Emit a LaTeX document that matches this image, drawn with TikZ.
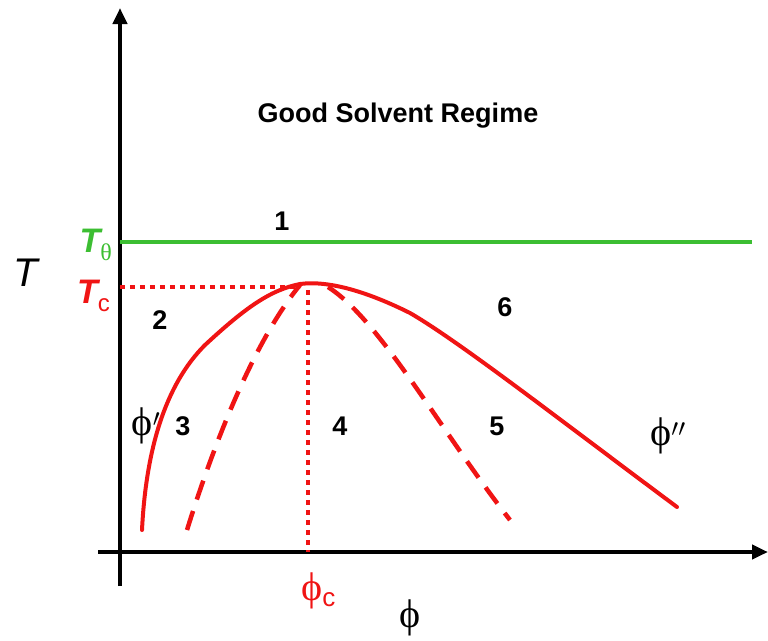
\documentclass[tikz,border=0pt]{standalone}
\usepackage{fontspec}
\setmainfont{Liberation Sans}
\newfontfamily\serifphi{Liberation Serif}
\usetikzlibrary{arrows.meta}
\definecolor{myred}{RGB}{240,20,20}
\definecolor{mygreen}{RGB}{60,190,50}
\tikzset{
  axis/.style={line width=4.5pt,-{Triangle[length=16pt,width=14pt]}},
  redcurve/.style={myred,line width=4pt},
  reddash/.style={myred,line width=4.5pt,dash pattern=on 20pt off 12pt},
  reddot/.style={myred,line width=4pt,dash pattern=on 5pt off 5pt},
  num/.style={font=\fontsize{27}{30}\selectfont\bfseries},
  phil/.style={font=\fontsize{40}{42}\selectfont\serifphi},
}
\begin{document}
\begin{tikzpicture}[x=1pt,y=-1pt]
\useasboundingbox (0,0) rectangle (768,640);
% axes
\coordinate (ybot) at (120,586);
\coordinate (ytop) at (120,8);
\coordinate (xl) at (98,552);
\coordinate (xr) at (768,552);
\draw[axis] (ybot) -- (ytop);
\draw[axis] (xl) -- (xr);
% theta line
\coordinate (g1) at (120,242);
\coordinate (g2) at (752,242);
\draw[mygreen,line width=4.5pt] (g1) -- (g2);
% critical point
\coordinate (crit) at (308,285);
\coordinate (tcl) at (120,287);
\coordinate (phicb) at (308,552);
\draw[reddot] (tcl) -- (300,287);
\draw[reddot] (308,290) -- (phicb);
% binodal
\draw[redcurve,line cap=round] (142,530) .. controls (146,450) and (165,385) .. (205,345)
  .. controls (245,308) and (270,290) .. (300,284)
  .. controls (330,280) and (370,293) .. (410,313)
  .. controls (460,342) and (560,420) .. (677,507);
% spinodal
\draw[reddash] (187,530) .. controls (215,440) and (255,340) .. (300,285);
\draw[reddash] (328,287) .. controls (380,320) and (440,430) .. (510,520);
% labels
\node[font=\fontsize{27}{30}\selectfont\bfseries] (title) at (398,116) {Good Solvent Regime};
\node[num] (n1) at (282,221) {1};
\node[num] (n2) at (160,320) {2};
\node[num] (n3) at (183,426) {3};
\node[num] (n4) at (340,426) {4};
\node[num] (n5) at (497,426) {5};
\node[num] (n6) at (505,307) {6};
\node[phil] (phip) at (146,426) {ϕ$'$};
\node[phil] (phipp) at (668,436) {ϕ$''$};
\node[phil] (phi) at (410,618) {ϕ};
\node[font=\fontsize{40}{42}\selectfont\itshape] (T) at (26,273) {T};
\node[mygreen,anchor=base east,inner sep=0pt] (Tth) at (112,252) {\fontsize{34}{36}\selectfont\itshape\bfseries T\raisebox{-8pt}{\fontsize{24}{26}\selectfont\upshape\mdseries\serifphi θ}};
\node[myred,anchor=base east,inner sep=0pt] (Tc) at (110,303) {\fontsize{34}{36}\selectfont\itshape\bfseries T\raisebox{-8pt}{\fontsize{24}{26}\selectfont\upshape\mdseries c}};
\node[myred,anchor=base west,inner sep=0pt] (phic) at (301,600) {\fontsize{40}{42}\selectfont\serifphi ϕ\raisebox{-6pt}{\fontsize{26}{28}\selectfont\rmfamily c}};
\end{tikzpicture}
\end{document}
